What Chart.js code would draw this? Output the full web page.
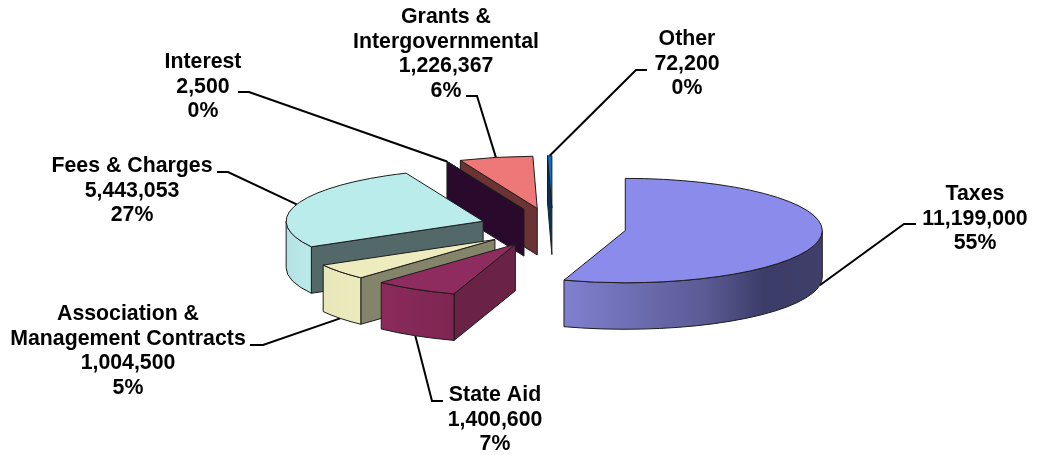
<!DOCTYPE html>
<html>
<head>
<meta charset="utf-8">
<title>Revenue by Source</title>
<script src="https://cdn.jsdelivr.net/npm/chart.js@4/dist/chart.umd.min.js"></script>
<style>
    html, body { margin: 0; padding: 0; background: #fff; }
    canvas { display: block; }
</style>
</head>
<body>
<canvas id="revenue_pie" width="1037" height="455"></canvas>
<script>
// Revenue figures
const categories = ['Taxes', 'State Aid', 'Association & Management Contracts', 'Fees & Charges', 'Interest', 'Grants & Intergovernmental', 'Other'];
const revenue = [11199000, 1400600, 1004500, 5443053, 2500, 1226367, 72200];

// Label text is wrapped by hand, same order as categories
const labelLines = [['Taxes'], ['State Aid'], ['Association &', 'Management Contracts'], ['Fees & Charges'], ['Interest'], ['Grants &', 'Intergovernmental'], ['Other']];

// Slice colours
const topColors = ['#8b8bec', '#8f2c5f', '#eeecbe', '#bbecec', '#3a1040', '#ee7777', '#0b6fca'];
const cutColors = ['#3b3b66', '#6b2247', '#84846a', '#536868', '#2a0a2c', '#6b3333', '#06325e'];
const wallColors = [
    [[0, '#8080d0'], [0.55, '#5a5a94'], [0.78, '#3c3c68'], [1, '#3f3f6a']],
    [[0, '#8a2b5c'], [1, '#7e2652']],
    [[0, '#e8e7ba'], [1, '#ecebbd']],
    [[0, '#b4e2e2'], [1, '#bce9e9']],
    [[0, '#2a0a2c'], [1, '#2a0a2c']],
    [[0, '#6b3333'], [1, '#6b3333']],
    [[0, '#06325e'], [1, '#06325e']]
];

// Where each label sits: centre x, first baseline, and the leader's elbow and end
const labelBoxes = [
    { x: 975, y: 200, elbowX: 904, elbowY: 224, endX: 916 },
    { x: 495, y: 401, elbowX: 432, elbowY: 401, endX: 443 },
    { x: 128, y: 320, elbowX: 263, elbowY: 345, endX: 250 },
    { x: 132, y: 172, elbowX: 228, elbowY: 172, endX: 217 },
    { x: 203, y: 68, elbowX: 249, elbowY: 92, endX: 238 },
    { x: 446, y: 23, elbowX: 477, elbowY: 96, endX: 466 },
    { x: 687, y: 45, elbowX: 636, elbowY: 70, endX: 647 }
];

const TILT = 0.265;
const DEPTH = 46.5;
const LINE_GAP = 24.5;
const EDGE = '#1c1c1c';

function sliceGeometry(arc) {
    const mid = (arc.startAngle + arc.endAngle) / 2;
    const shift = arc.options.offset;
    return {
        a: arc.startAngle,
        b: arc.endAngle,
        mid: mid,
        r: arc.outerRadius,
        x: arc.x + Math.cos(mid) * shift,
        y: arc.y + Math.sin(mid) * shift * TILT
    };
}

function rimPoint(s, angle, drop) {
    return [s.x + Math.cos(angle) * s.r, s.y + Math.sin(angle) * s.r * TILT + drop];
}

function drawCut(ctx, s, angle, color) {
    const rim = rimPoint(s, angle, 0);
    ctx.beginPath();
    ctx.moveTo(s.x, s.y);
    ctx.lineTo(rim[0], rim[1]);
    ctx.lineTo(rim[0], rim[1] + DEPTH);
    ctx.lineTo(s.x, s.y + DEPTH);
    ctx.closePath();
    ctx.fillStyle = color;
    ctx.fill();
    ctx.stroke();
}

function drawWall(ctx, s, stops) {
    // only the part of the rim facing the viewer
    const from = Math.max(s.a, 0);
    const to = Math.min(s.b, Math.PI);
    if (to <= from) return;
    const left = Math.min(rimPoint(s, from, 0)[0], rimPoint(s, to, 0)[0]);
    const right = from <= 0 ? s.x + s.r : Math.max(rimPoint(s, from, 0)[0], rimPoint(s, to, 0)[0]);
    const grad = ctx.createLinearGradient(left, 0, right, 0);
    stops.forEach(function (stop) { grad.addColorStop(stop[0], stop[1]); });
    ctx.beginPath();
    ctx.ellipse(s.x, s.y, s.r, s.r * TILT, 0, from, to);
    ctx.ellipse(s.x, s.y + DEPTH, s.r, s.r * TILT, 0, to, from, true);
    ctx.closePath();
    ctx.fillStyle = grad;
    ctx.fill();
    ctx.stroke();
}

function drawTop(ctx, s, color) {
    ctx.beginPath();
    ctx.moveTo(s.x, s.y);
    ctx.ellipse(s.x, s.y, s.r, s.r * TILT, 0, s.a, s.b);
    ctx.closePath();
    ctx.fillStyle = color;
    ctx.fill();
    ctx.stroke();
}

function drawLeader(ctx, s, box) {
    // the leader meets the rim at the slice's middle angle, on the lower edge if that side faces us
    const drop = Math.sin(s.mid) > 0 ? DEPTH : 0;
    const start = rimPoint(s, s.mid, drop);
    ctx.beginPath();
    ctx.moveTo(start[0], start[1]);
    ctx.lineTo(box.elbowX, box.elbowY);
    ctx.lineTo(box.endX, box.elbowY);
    ctx.lineWidth = 2;
    ctx.strokeStyle = '#000';
    ctx.stroke();
}

function drawLabel(ctx, i, box, total) {
    const lines = labelLines[i].concat([
        revenue[i].toLocaleString('en-US'),
        Math.round(revenue[i] / total * 100) + '%'
    ]);
    ctx.font = 'bold 21.3px "Liberation Sans", Arial, sans-serif';
    ctx.fillStyle = '#000';
    ctx.textAlign = 'center';
    ctx.textBaseline = 'alphabetic';
    lines.forEach(function (line, n) {
        ctx.fillText(line, box.x, box.y + n * LINE_GAP);
    });
}

// Draws the arcs as raised slices, far ones first
const raisedPie = {
    id: 'raisedPie',
    beforeDatasetDraw: function (chart, args) {
        const ctx = chart.ctx;
        const arcs = args.meta.data;
        const total = revenue.reduce(function (sum, v) { return sum + v; }, 0);
        const slices = arcs.map(sliceGeometry);

        ctx.save();
        slices.forEach(function (s, i) { drawLeader(ctx, s, labelBoxes[i]); });

        ctx.lineWidth = 1;
        ctx.strokeStyle = EDGE;
        ctx.lineJoin = 'round';
        for (let i = slices.length - 1; i >= 0; i--) {
            const s = slices[i];
            if (-Math.cos(s.a) > 0) drawCut(ctx, s, s.a, cutColors[i]);
            if (Math.cos(s.b) > 0) drawCut(ctx, s, s.b, cutColors[i]);
            drawWall(ctx, s, wallColors[i]);
            drawTop(ctx, s, topColors[i]);
        }

        slices.forEach(function (s, i) { drawLabel(ctx, i, labelBoxes[i], total); });
        ctx.restore();
        return false;
    }
};

new Chart(document.getElementById('revenue_pie').getContext('2d'), {
    type: 'pie',
    data: {
        labels: categories,
        datasets: [{
            data: revenue,
            backgroundColor: topColors,
            borderWidth: 0,
            offset: 73.5
        }]
    },
    options: {
        responsive: false,
        animation: false,
        radius: 197,
        layout: { padding: { left: 68.4 } },
        plugins: {
            legend: { display: false },
            tooltip: { enabled: false }
        }
    },
    plugins: [raisedPie]
});
</script>
</body>
</html>
